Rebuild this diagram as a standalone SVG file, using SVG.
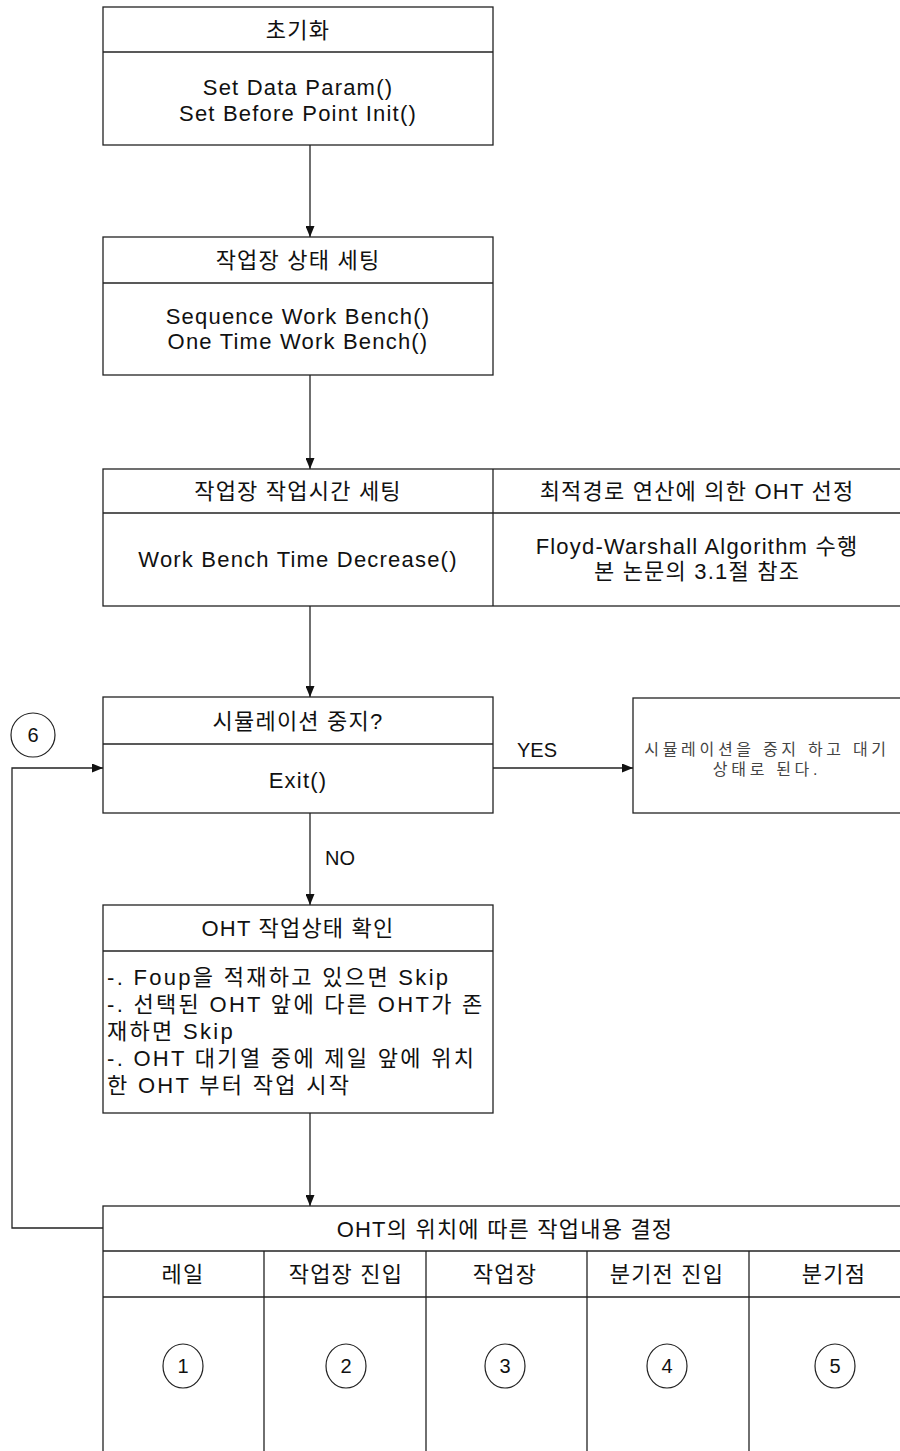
<svg xmlns="http://www.w3.org/2000/svg" width="900" height="1451" viewBox="0 0 900 1451">
  <defs>
    <marker id="arrow" markerWidth="11" markerHeight="9" refX="11" refY="4.5" orient="auto" markerUnits="userSpaceOnUse">
      <path d="M0,0 L11,4.5 L0,9 z" fill="#111"/>
    </marker>
    <style>
      .box { fill: #fff; stroke: #222; stroke-width: 1.3; }
      .ln { stroke: #222; stroke-width: 1.3; fill: none; }
      .con { stroke: #222; stroke-width: 1.3; fill: none; marker-end: url(#arrow); }
      .t { font-family: "Liberation Sans", "Noto Sans CJK KR", sans-serif; font-size: 22px; fill: #111; text-anchor: middle; dominant-baseline: central; letter-spacing: 1.2px; }
      .body { text-anchor: start; letter-spacing: 2.3px; }
      .note { font-size: 16px; fill: #444; letter-spacing: 3.7px; }
      .lbl { font-size: 20px; letter-spacing: 0; }
      .num { font-family: "Liberation Sans", sans-serif; font-size: 20px; fill: #111; text-anchor: middle; dominant-baseline: central; }
      .circ { fill: #fff; stroke: #222; stroke-width: 1.2; }
    </style>
  </defs>
  <rect width="900" height="1451" fill="#fff"/>

  <!-- connectors -->
  <g id="connectors">
    <line class="con" x1="310" y1="145" x2="310" y2="237"/>
    <line class="con" x1="310" y1="375" x2="310" y2="469"/>
    <line class="con" x1="310" y1="606" x2="310" y2="697"/>
    <line class="con" x1="493" y1="768" x2="633" y2="768"/>
    <line class="con" x1="310" y1="813" x2="310" y2="905"/>
    <line class="con" x1="310" y1="1113" x2="310" y2="1206"/>
    <polyline class="con" points="103,1228 12,1228 12,768 103,768"/>
    <text class="t lbl" x="537" y="750">YES</text>
    <text class="t lbl" x="340" y="858">NO</text>
  </g>

  <!-- initialisation -->
  <g id="init">
    <rect class="box" x="103" y="7" width="390" height="138"/>
    <line class="ln" x1="103" y1="52" x2="493" y2="52"/>
    <text class="t" x="298" y="30">초기화</text>
    <text class="t" x="298" y="87">Set Data Param()</text>
    <text class="t" x="298" y="113">Set Before Point Init()</text>
  </g>

  <!-- work bench state -->
  <g id="bench-state">
    <rect class="box" x="103" y="237" width="390" height="138"/>
    <line class="ln" x1="103" y1="283" x2="493" y2="283"/>
    <text class="t" x="298" y="260">작업장 상태 세팅</text>
    <text class="t" x="298" y="316">Sequence Work Bench()</text>
    <text class="t" x="298" y="341">One Time Work Bench()</text>
  </g>

  <!-- work bench time / OHT selection -->
  <g id="bench-time">
    <rect class="box" x="103" y="469" width="807" height="137"/>
    <line class="ln" x1="103" y1="513" x2="910" y2="513"/>
    <line class="ln" x1="493" y1="469" x2="493" y2="606"/>
    <text class="t" x="298" y="491">작업장 작업시간 세팅</text>
    <text class="t" x="298" y="559">Work Bench Time Decrease()</text>
    <text class="t" x="697" y="491">최적경로 연산에 의한 OHT 선정</text>
    <text class="t" x="697" y="546">Floyd-Warshall Algorithm 수행</text>
    <text class="t" x="697" y="571">본 논문의 3.1절 참조</text>
  </g>

  <!-- stop check -->
  <g id="stop-check">
    <rect class="box" x="103" y="697" width="390" height="116"/>
    <line class="ln" x1="103" y1="744" x2="493" y2="744"/>
    <text class="t" x="298" y="721">시뮬레이션 중지?</text>
    <text class="t" x="298" y="780">Exit()</text>
  </g>

  <!-- stop result -->
  <g id="stop-result">
    <rect class="box" x="633" y="698" width="277" height="115"/>
    <text class="t note" x="767" y="749">시뮬레이션을 중지 하고 대기</text>
    <text class="t note" x="767" y="769">상태로 된다.</text>
  </g>

  <!-- loop marker 6 -->
  <g id="marker-6">
    <circle class="circ" cx="33" cy="735" r="22"/>
    <text class="num" x="33" y="735">6</text>
  </g>

  <!-- OHT state check -->
  <g id="oht-check">
    <rect class="box" x="103" y="905" width="390" height="208"/>
    <line class="ln" x1="103" y1="951" x2="493" y2="951"/>
    <text class="t" x="298" y="928">OHT 작업상태 확인</text>
    <text class="t body" x="107" y="977">-. Foup을 적재하고 있으면 Skip</text>
    <text class="t body" x="107" y="1004">-. 선택된 OHT 앞에 다른 OHT가 존</text>
    <text class="t body" x="107" y="1031">재하면 Skip</text>
    <text class="t body" x="107" y="1058">-. OHT 대기열 중에 제일 앞에 위치</text>
    <text class="t body" x="107" y="1085">한 OHT 부터 작업 시작</text>
  </g>

  <!-- work decision by OHT position -->
  <g id="oht-position">
    <rect class="box" x="103" y="1206" width="807" height="260"/>
    <line class="ln" x1="103" y1="1251" x2="910" y2="1251"/>
    <line class="ln" x1="103" y1="1297" x2="910" y2="1297"/>
    <line class="ln" x1="264" y1="1251" x2="264" y2="1451"/>
    <line class="ln" x1="426" y1="1251" x2="426" y2="1451"/>
    <line class="ln" x1="587" y1="1251" x2="587" y2="1451"/>
    <line class="ln" x1="749" y1="1251" x2="749" y2="1451"/>
    <text class="t" x="505" y="1229">OHT의 위치에 따른 작업내용 결정</text>
    <text class="t" x="183" y="1274">레일</text>
    <text class="t" x="346" y="1274">작업장 진입</text>
    <text class="t" x="505" y="1274">작업장</text>
    <text class="t" x="667" y="1274">분기전 진입</text>
    <text class="t" x="834" y="1274">분기점</text>
    <ellipse class="circ" cx="183" cy="1366" rx="20" ry="22"/>
    <ellipse class="circ" cx="346" cy="1366" rx="20" ry="22"/>
    <ellipse class="circ" cx="505" cy="1366" rx="20" ry="22"/>
    <ellipse class="circ" cx="667" cy="1366" rx="20" ry="22"/>
    <ellipse class="circ" cx="835" cy="1366" rx="20" ry="22"/>
    <text class="num" x="183" y="1366">1</text>
    <text class="num" x="346" y="1366">2</text>
    <text class="num" x="505" y="1366">3</text>
    <text class="num" x="667" y="1366">4</text>
    <text class="num" x="835" y="1366">5</text>
  </g>
</svg>
